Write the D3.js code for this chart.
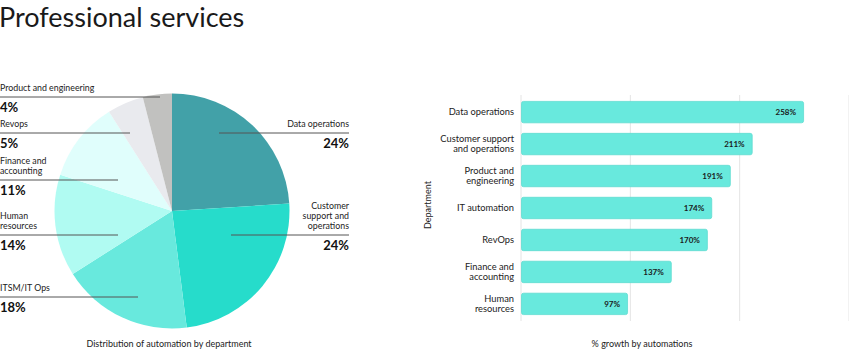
<!DOCTYPE html>
<html>
<head>
<meta charset="utf-8">
<script src="https://cdn.jsdelivr.net/npm/d3@7"></script>
<style>
    body { margin: 0; background: #fff; }
    svg { font-family: Lato, "Noto Sans", sans-serif; }
</style>
</head>
<body>
<svg id="chart"></svg>
<script>
const width = 849, height = 350

// pie data
const pieNames = ["Data operations", "Customer support and operations", "ITSM/IT Ops", "Human resources", "Finance and accounting", "Revops", "Product and engineering"]
const pieValues = [24, 24, 18, 14, 11, 5, 4]
const pieColors = ["#42a1a8", "#26dccb", "#68e9dd", "#b0fbf2", "#e0fefc", "#e9eaee", "#c1c1bf"]
const pieLabelLines = [["Data operations"], ["Customer", "support and", "operations"], ["ITSM/IT Ops"], ["Human", "resources"], ["Finance and", "accounting"], ["Revops"], ["Product and engineering"]]

// bar data
const barNames = ["Data operations", "Customer support and operations", "Product and engineering", "IT automation", "RevOps", "Finance and accounting", "Human resources"]
const barValues = [258, 211, 191, 174, 170, 137, 97]
const barLabelLines = [["Data operations"], ["Customer support", "and operations"], ["Product and", "engineering"], ["IT automation"], ["RevOps"], ["Finance and", "accounting"], ["Human", "resources"]]
const xTicks = [0, 100, 200, 300]

// annotation layout for pie labels: side, y of leader line, inner end x of line
const pieLabelLayout = [
    {side: "right", y: 133, x: 219},
    {side: "right", y: 235, x: 231},
    {side: "left", y: 297, x: 138},
    {side: "left", y: 235, x: 118},
    {side: "left", y: 180, x: 118},
    {side: "left", y: 133, x: 130},
    {side: "left", y: 97, x: 160},
]

const svg = d3.select("svg#chart")
    .attr("width", width)
    .attr("height", height)
    .attr("viewBox", [0, 0, width, height])

// Title
svg.append("text")
    .attr("x", -1)
    .attr("y", 27)
    .attr("font-size", 27)
    .attr("fill", "#1a1a1a")
    .text("Professional services")

// ---------- Pie ----------
const cx = 172, cy = 211, radius = 117.5

const pie = d3.pie().sort(null).value(d => d)
const arc = d3.arc().innerRadius(0).outerRadius(radius)

const pieG = svg.append("g").attr("transform", `translate(${cx}, ${cy})`)
pieG.selectAll("path")
    .data(pie(pieValues))
    .enter()
    .append("path")
    .attr("d", arc)
    .attr("fill", (d, i) => pieColors[i])

const rightEdge = 349
const lineH = 9.8
const annot = svg.append("g").classed("pie-labels", true)
pieNames.forEach((name, i) => {
    const lay = pieLabelLayout[i]
    const lines = pieLabelLines[i]
    const right = lay.side === "right"
    const tx = right ? rightEdge : 0
    const anchor = right ? "end" : "start"

    annot.append("line")
        .attr("x1", right ? lay.x : 0)
        .attr("x2", right ? rightEdge : lay.x)
        .attr("y1", lay.y)
        .attr("y2", lay.y)
        .attr("stroke", "#555")
        .attr("stroke-width", 1)

    lines.forEach((t, j) => {
        annot.append("text")
            .attr("x", tx)
            .attr("y", lay.y - 6 - (lines.length - 1 - j) * lineH)
            .attr("text-anchor", anchor)
            .attr("font-size", 8.8)
            .attr("fill", "#222")
            .text(t)
    })

    annot.append("text")
        .attr("x", tx)
        .attr("y", lay.y + 15)
        .attr("text-anchor", anchor)
        .attr("font-size", 13)
        .attr("font-weight", "bold")
        .attr("fill", "#111")
        .text(pieValues[i] + "%")
})

svg.append("text")
    .attr("x", 169)
    .attr("y", 347)
    .attr("text-anchor", "middle")
    .attr("font-size", 9)
    .attr("fill", "#222")
    .text("Distribution of automation by department")

// ---------- Bars ----------
const xScale = d3.scaleLinear()
    .domain([0, 300])
    .range([521, 849])

const yScale = d3.scaleBand()
    .domain(barNames)
    .range([95, 321])
    .paddingInner(0.33)
    .paddingOuter(0.2)

// grid
svg.append("g").classed("v-grid", true)
    .selectAll("line")
    .data(xTicks)
    .enter()
    .append("line")
    .attr("x1", d => xScale(d))
    .attr("x2", d => xScale(d))
    .attr("y1", 95)
    .attr("y2", 321)
    .attr("stroke", "#e4e4e4")

svg.append("g").classed("bars", true)
    .selectAll("rect")
    .data(barValues)
    .enter()
    .append("rect")
    .attr("x", xScale(0) + 0.5)
    .attr("y", (d, i) => yScale(barNames[i]))
    .attr("width", d => xScale(d) - xScale(0))
    .attr("height", yScale.bandwidth())
    .attr("rx", 2)
    .attr("fill", "#68e9dd")
    .attr("stroke", "#5fdcd0")
    .attr("stroke-width", 0.8)

svg.append("g").classed("bar-values", true)
    .selectAll("text")
    .data(barValues)
    .enter()
    .append("text")
    .attr("x", d => xScale(d) - 7)
    .attr("y", (d, i) => yScale(barNames[i]) + yScale.bandwidth() / 2 + 3)
    .attr("text-anchor", "end")
    .attr("font-size", 8)
    .attr("font-weight", "bold")
    .attr("fill", "#1a1a1a")
    .text(d => d + "%")

// y labels
const yLab = svg.append("g").classed("y-labels", true)
barNames.forEach((name, i) => {
    const lines = barLabelLines[i]
    const mid = yScale(name) + yScale.bandwidth() / 2
    lines.forEach((t, j) => {
        yLab.append("text")
            .attr("x", 514)
            .attr("y", mid + 3 + (j - (lines.length - 1) / 2) * 10)
            .attr("text-anchor", "end")
            .attr("font-size", 9.3)
            .attr("fill", "#222")
            .text(t)
    })
})

svg.append("text")
    .attr("transform", "translate(431, 205) rotate(-90)")
    .attr("text-anchor", "middle")
    .attr("font-size", 9)
    .attr("fill", "#222")
    .text("Department")

svg.append("text")
    .attr("x", 642)
    .attr("y", 347)
    .attr("text-anchor", "middle")
    .attr("font-size", 9)
    .attr("fill", "#222")
    .text("% growth by automations")
</script>
</body>
</html>
